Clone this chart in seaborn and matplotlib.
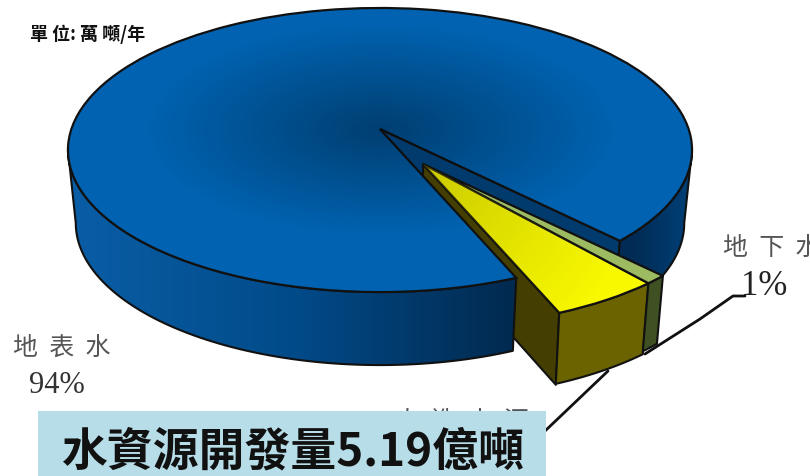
import numpy as np
import matplotlib
matplotlib.use("Agg")
import matplotlib.pyplot as plt
import seaborn as sns
from matplotlib.colors import LinearSegmentedColormap
from matplotlib.patches import Polygon, Rectangle
from matplotlib.transforms import Affine2D, Transform, TransformedPatchPath

# ---- data -------------------------------------------------------------
sources = ["地表水", "人造水源", "地下水"]
shares = [94, 5, 1]
share_labels = ["94%", "5%", "1%"]
title_text = "水資源開發量5.19億噸"
unit_text = "單 位: 萬 噸/年"

# ---- style ------------------------------------------------------------
sns.set_theme(style="white")
plt.rcParams["font.family"] = ["Noto Sans CJK TC", "DejaVu Sans"]
palette = sns.color_palette(["#0062B0", "#F8F800", "#9DBB61"])
CJK = ["Noto Sans CJK TC", "DejaVu Sans"]
SERIF = ["Liberation Serif", "DejaVu Serif"]


class Tilt(Transform):
    """Perspective view of the unit pie on pixel coordinates."""
    input_dims = output_dims = 2
    has_inverse = False
    A, B, C, CX, CY = 308.6, -119.7, 0.148, 380.0, 130.0

    def transform_non_affine(self, xy):
        xy = np.asarray(xy, float)
        w = 1 + self.C * xy[:, 1]
        return np.column_stack([self.CX + self.A * xy[:, 0] / w,
                                (self.CY + self.B * xy[:, 1]) / w])


tilt = Tilt()
OFFSET = (43, 35)
TAPER = 0.975


def rim(t1, t2, shift=(0, 0), n=80):
    a = np.radians(np.linspace(t1, t2, n))
    p = tilt.transform_non_affine(np.column_stack([np.cos(a), np.sin(a)]))
    return p + np.array(shift)


def wall(points, depth=73, cx=Tilt.CX):
    low = points[::-1].copy()
    low[:, 0] = cx + (low[:, 0] - cx) * TAPER
    low[:, 1] += depth
    return np.vstack([points, low])


fig = plt.figure(figsize=(8.1, 4.77), dpi=100, facecolor="white")
ax = fig.add_axes([0, 0, 1, 1])
wedges, _ = ax.pie(shares, colors=palette, startangle=314.0, radius=1,
                   wedgeprops=dict(edgecolor="#111111", linewidth=1.6))
ax.set_aspect("auto")
ax.axis("off")

blue, yellow, green = wedges
exploded = Affine2D().translate(*OFFSET)
blue.set_transform(tilt + ax.transData)
yellow.set_transform(tilt + exploded + ax.transData)
green.set_transform(tilt + exploded + ax.transData)
blue.set_zorder(5)
yellow.set_zorder(9)
green.set_zorder(9)

EDGE = dict(edgecolor="#111111", linewidth=1.5, joinstyle="round")
EX_X = Tilt.CX + OFFSET[0]

# inner cut face of the big slice
end = rim(blue.theta1, blue.theta1, n=1)[0]
apex = np.array([Tilt.CX, Tilt.CY])
ax.add_patch(Polygon(wall(np.vstack([apex, end])), closed=True,
                     facecolor="#013A6C", zorder=2, **EDGE))

# cut face of the yellow slice
y_start = rim(yellow.theta1, yellow.theta1, OFFSET, n=1)[0]
ax.add_patch(Polygon(wall(np.vstack([apex + OFFSET, y_start]), 72, EX_X), closed=True,
                     facecolor="#443F00", zorder=3, **EDGE))

# outer wall of the big slice, shaded from left to right
side_cmap = LinearSegmentedColormap.from_list(
    "side", [(0.0, "#0A5EA6"), (0.37, "#014A88"), (0.71, "#012A50"),
             (0.91, "#012C55"), (1.0, "#004078")])
grad = np.linspace(0, 1, 512)[None, :]
for t1, t2 in [(188.5, blue.theta2 - 360), (blue.theta1 - 360, -8.5)]:
    poly = Polygon(wall(rim(t1, t2)), closed=True, facecolor="none", zorder=4.2, **EDGE)
    ax.add_patch(poly)
    img = ax.imshow(grad, cmap=side_cmap, extent=(68, 692, 400, 100),
                    aspect="auto", zorder=4.1)
    img.set_clip_path(poly)

# outer walls of the separated slices
ax.add_patch(Polygon(wall(rim(yellow.theta1, yellow.theta2, OFFSET), 71, EX_X), closed=True,
                     facecolor="#6B6300", zorder=7, **EDGE))
ax.add_patch(Polygon(wall(rim(green.theta1, green.theta2, OFFSET), 68, EX_X), closed=True,
                     facecolor="#3F5022", zorder=7, **EDGE))

# shading of the top faces
yy, xx = np.mgrid[0:330, 0:810]
dist = np.hypot((xx - 380) / 312, (yy - 130) / 140)
dark = np.zeros(dist.shape + (4,))
dark[..., 3] = 0.36 * np.clip(1 - dist / 0.75, 0, 1)
img = ax.imshow(dark, extent=(0, 810, 330, 0), aspect="auto", zorder=5.5)
img.set_clip_path(TransformedPatchPath(blue))

ramp = np.zeros((330, 810, 4))
ramp[..., 0:2] = 0.55
ramp[..., 3] = 0.42 * np.clip(1 - np.hypot(xx - 424, yy - 166) / 215, 0, 1)
img = ax.imshow(ramp, extent=(0, 810, 330, 0), aspect="auto", zorder=9.5)
img.set_clip_path(TransformedPatchPath(yellow))
ax.set_xlim(0, 810)
ax.set_ylim(477, 0)

# leader lines
ax.plot([645, 700, 733, 745], [355, 320, 297, 297], color="#111111", lw=2, zorder=1)
ax.plot([545, 608], [432, 372], color="#111111", lw=2, zorder=1)

# labels
ax.text(62, 348, "  ".join(sources[0]), fontsize=18, family=CJK, color="#555555",
        ha="center", va="center")
ax.text(57, 386, share_labels[0], fontsize=22, family=SERIF, color="#333333",
        ha="center", va="center")
ax.text(723, 248, "  ".join(sources[2]), fontsize=18, family=CJK, color="#555555",
        ha="left", va="center", clip_on=True)
ax.text(764, 287, share_labels[2], fontsize=25, family=SERIF, color="#222222",
        ha="center", va="center")
ax.text(462, 421, "  ".join(sources[1]), fontsize=18, family=CJK, color="#555555",
        ha="center", va="center", zorder=1)
ax.text(30, 34, unit_text, fontsize=13, family=CJK, weight="bold", color="#111111",
        ha="left", va="center", zorder=12)

# title box
ax.add_patch(Rectangle((38, 412), 508, 65, facecolor="#B7DDE8", edgecolor="none", zorder=10))
ax.text(293, 453, title_text, fontsize=33, family=CJK, weight="bold", color="#111111",
        ha="center", va="center", zorder=11)

fig.savefig("out.png", dpi=100)
